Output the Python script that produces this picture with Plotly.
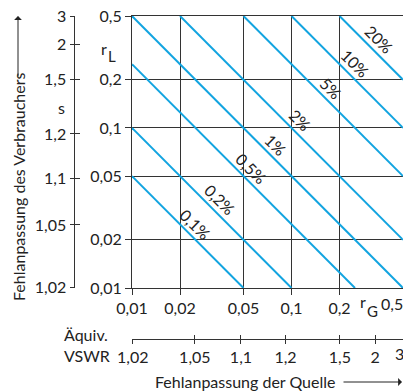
import math
import plotly.graph_objects as go

W, H = 403, 392

# ---- data ----
r_ticks = [0.01, 0.02, 0.05, 0.1, 0.2, 0.5]
r_tick_text = ["0,01", "0,02", "0,05", "0,1", "0,2", "0,5"]
vswr_vals = [1.02, 1.05, 1.1, 1.2, 1.5, 2, 3]
vswr_text = ["1,02", "1,05", "1,1", "1,2", "1,5", "2", "3"]
line_products = [0.0005, 0.001, 0.0025, 0.005, 0.01, 0.025, 0.05, 0.1]  # rG * rL
line_labels = ["0,1%", "0,2%", "0,5%", "1%", "2%", "5%", "10%", "20%"]

r_min, r_max = 0.01, 0.5
vswr_r = [(s - 1) / (s + 1) for s in vswr_vals]

FONT = "Lato"
TXT = "#222222"
GRID = "#333333"
BLUE = "#12a4e0"
FS = 16

# plot-area pixel box
PX0, PX1, PY0, PY1 = 132, 403, 16, 288

fig = go.Figure()

for c in line_products:
    x0 = max(r_min, c / r_max)
    x1 = min(r_max, c / r_min)
    fig.add_trace(go.Scatter(x=[x0, x1], y=[c / x0, c / x1], mode="lines",
                             line=dict(color=BLUE, width=2), showlegend=False,
                             hoverinfo="skip", cliponaxis=True))

# empty traces to register the secondary axes
fig.add_trace(go.Scatter(x=[], y=[], xaxis="x2", yaxis="y", showlegend=False))
fig.add_trace(go.Scatter(x=[], y=[], xaxis="x3", yaxis="y", showlegend=False))
fig.add_trace(go.Scatter(x=[], y=[], xaxis="x", yaxis="y2", showlegend=False))
fig.add_trace(go.Scatter(x=[], y=[], xaxis="x", yaxis="y3", showlegend=False))

rng = [math.log10(r_min), math.log10(r_max)]
rng2 = [math.log10(0.0098), math.log10(r_max)]
xdom = [PX0 / W, PX1 / W]
ydom = [(H - PY1) / H, (H - PY0) / H]

tf = dict(family=FONT, size=FS, color=TXT)
common = dict(type="log", tickfont=tf, zeroline=False, automargin=False)

fig.update_layout(
    width=W, height=H, margin=dict(l=0, r=0, t=0, b=0, autoexpand=False),
    paper_bgcolor="white", plot_bgcolor="white", showlegend=False,
    font=dict(family=FONT, size=FS, color=TXT),
    xaxis=dict(**common, range=rng, domain=xdom, anchor="y", tickvals=r_ticks,
               ticktext=r_tick_text[:-1] + [""], showgrid=True, gridcolor=GRID,
               gridwidth=1, showline=True, linecolor=GRID, linewidth=1, mirror=True,
               ticks="outside", ticklen=6, tickcolor=GRID),
    yaxis=dict(**common, range=rng, domain=ydom, anchor="x", tickvals=r_ticks,
               ticktext=r_tick_text, showgrid=True, gridcolor=GRID, gridwidth=1,
               showline=True, linecolor=GRID, linewidth=1, mirror=False,
               ticks="outside", ticklen=6, tickcolor=GRID),
    xaxis2=dict(**common, range=rng2, overlaying="x", anchor="free",
                position=(H - 339) / H, side="bottom", tickvals=vswr_r,
                ticktext=vswr_text[:-1] + [""], showgrid=False, showline=True,
                linecolor=GRID, linewidth=1, ticks="outside", ticklen=4,
                tickcolor=GRID),
    xaxis3=dict(**common, range=rng2, overlaying="x", anchor="free",
                position=(H - 339) / H, side="bottom", tickvals=vswr_r,
                showticklabels=False, showgrid=False, showline=False,
                ticks="inside", ticklen=4, tickcolor=GRID),
    yaxis2=dict(**common, range=rng2, overlaying="y", anchor="free",
                position=73.5 / W, side="left", tickvals=vswr_r, ticktext=vswr_text,
                showgrid=False, showline=True, linecolor=GRID, linewidth=1,
                ticks="outside", ticklen=4, tickcolor=GRID),
    yaxis3=dict(**common, range=rng2, overlaying="y", anchor="free",
                position=73.5 / W, side="left", tickvals=vswr_r,
                showticklabels=False, showgrid=False, showline=False,
                ticks="inside", ticklen=5, tickcolor=GRID),
)

ann = []
for c, lab in zip(line_products, line_labels):
    v = 0.5 * math.log10(c)
    ann.append(dict(x=v, y=v, xref="x", yref="y", text=lab, showarrow=False,
                    textangle=45, xshift=8, yshift=8, font=tf))

def da(px, py, text, **kw):
    # position given in pixels, expressed relative to the plot-area domain
    d = dict(x=(px - PX0) / (PX1 - PX0), y=(PY1 - py) / (PY1 - PY0),
             xref="x domain", yref="y domain", text=text, showarrow=False, font=tf,
             xanchor="center", yanchor="middle")
    d.update(kw)
    return d

ann.append(da(104, 48, "r"))
ann.append(da(112, 56, "L", font=dict(family=FONT, size=15, color=TXT)))
ann.append(da(363, 302, "r"))
ann.append(da(372, 311, "G", font=dict(family=FONT, size=15, color=TXT)))
ann.append(da(405, 304, r_tick_text[-1], xanchor="right"))
ann.append(da(406, 354, vswr_text[-1], xanchor="right"))
ann.append(da(61, 107, "s"))
ann.append(da(62, 345, "Äquiv.<br>VSWR", xanchor="left", align="left"))
ann.append(da(18, 187, "Fehlanpassung des Verbrauchers", textangle=-90))
ann.append(da(245, 382, "Fehlanpassung der Quelle"))
# arrows
ann.append(da(18, 16, "", showarrow=True, ax=0, ay=62, axref="pixel", ayref="pixel",
              arrowhead=1, arrowsize=1.3, arrowwidth=1, arrowcolor=TXT))
ann.append(da(402, 382, "", showarrow=True, ax=-60, ay=0, axref="pixel",
              ayref="pixel", arrowhead=1, arrowsize=1.3, arrowwidth=1,
              arrowcolor=TXT))
fig.update_layout(annotations=ann)

fig.write_html("out.html", config={"displayModeBar": False},
               post_script="document.body.style.margin='0';"
                           "document.body.style.overflow='hidden';")
